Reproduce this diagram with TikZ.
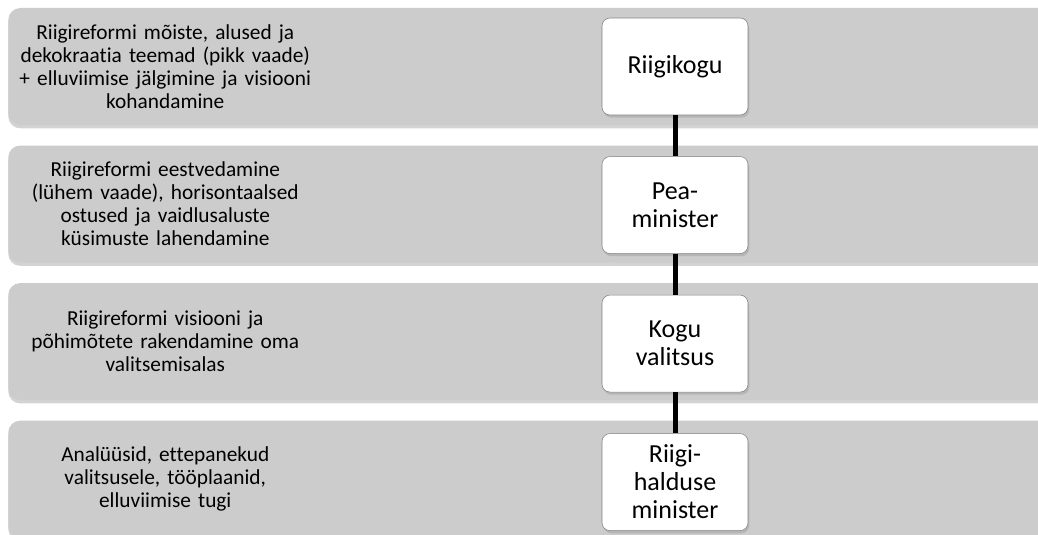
\documentclass[tikz,border=0pt]{standalone}
\usepackage{fontspec}
\setmainfont{Carlito}[Ligatures=NoCommon]
\usetikzlibrary{positioning,shadows}

\begin{document}
\begin{tikzpicture}[
  x = 0.75pt, y = -0.75pt,
  node distance = 15pt,
  band/.style = {rectangle, fill=black!20, rounded corners=9pt,
                 minimum width=790pt, minimum height=87.75pt, inner sep=0pt,
                 anchor=west,
                 drop shadow={shadow xshift=0pt, shadow yshift=-2.5pt, opacity=0.35}},
  desc/.style = {text width=225pt, align=center, inner sep=0pt,
                 font=\fontsize{16}{17.3}\selectfont},
  role/.style = {rectangle, draw=black!50, fill=white, rounded corners=6pt,
                 minimum width=109.5pt, minimum height=72.75pt, align=center,
                 inner sep=2pt, font=\fontsize{19.5}{21}\selectfont,
                 drop shadow={shadow xshift=1pt, shadow yshift=-2pt, opacity=0.3}},
  link/.style = {line width=3.75pt}
]
\useasboundingbox (0,0) rectangle (1038,535);

\node[band] (band1) at (8,66.5) {};
\node[band, below=of band1] (band2) {};
\node[band, below=of band2] (band3) {};
\node[band, below=of band3] (band4) {};

\node[desc, right=5.25pt of band1.west] (txt1) {Riigireformi mõiste, alused ja\\dekokraatia teemad (pikk vaade)\\+ elluviimise jälgimine ja visiooni\\kohandamine};
\node[desc, right=5.25pt of band2.west] (txt2) {Riigireformi eestvedamine\\(lühem vaade), horisontaalsed\\ostused ja vaidlusaluste\\küsimuste lahendamine};
\node[desc, right=5.25pt of band3.west] (txt3) {Riigireformi visiooni ja\\põhimõtete rakendamine oma\\valitsemisalas};
\node[desc, right=5.25pt of band4.west] (txt4) {Analüüsid, ettepanekud\\valitsusele, tööplaanid,\\elluviimise tugi};

\node[role] (riigikogu) at (675,66.5) {Riigikogu};
\node[role, below=30.75pt of riigikogu] (pea) {Pea-\\minister};
\node[role, below=30.75pt of pea] (valitsus) {Kogu\\valitsus};
\node[role, below=30.75pt of valitsus] (halduse) {Riigi-\\halduse\\minister};

\draw[link] (riigikogu) -- (pea);
\draw[link] (pea) -- (valitsus);
\draw[link] (valitsus) -- (halduse);
\end{tikzpicture}
\end{document}
